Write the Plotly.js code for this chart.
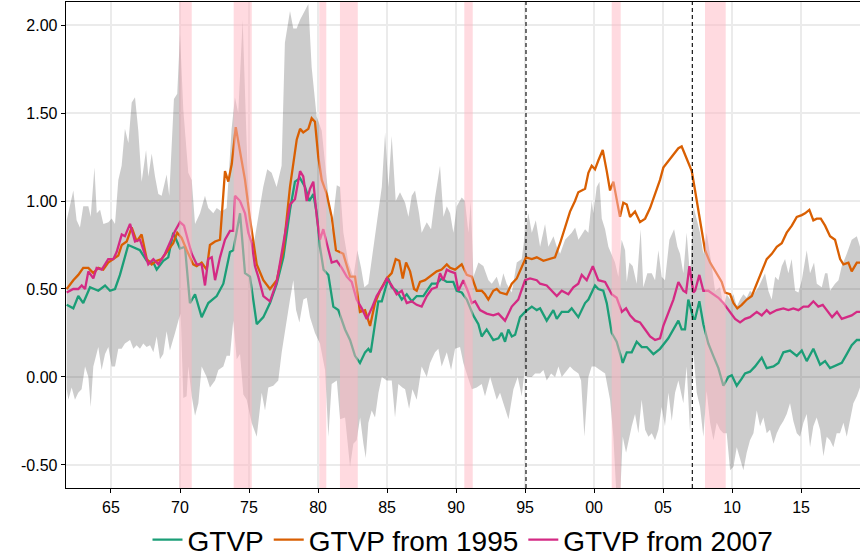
<!DOCTYPE html>
<html>
<head>
<meta charset="utf-8">
<script src="https://cdn.plot.ly/plotly-3.0.1.min.js"></script>
<style>html,body{margin:0;padding:0;background:#fff;}#chart{width:860px;height:558px;}</style>
</head>
<body>
<div id="chart"></div>
<script>
// ---- GTVP ----
var gtvpYear = [1961.79,1962.27,1962.63,1962.99,1963.48,1964.08,1964.57,1964.93,1965.29,1965.65,
1966.25,1966.74,1967.10,1967.59,1968.07,1968.31,1968.79,1969.15,1969.51,1970.00,
1970.36,1970.72,1971.09,1971.57,1972.05,1972.66,1973.14,1973.62,1973.86,1974.35,
1974.71,1975.07,1975.56,1976.04,1976.52,1977.01,1977.49,1977.97,1978.33,1978.70,
1979.06,1979.37,1979.66,1979.91,1980.14,1980.40,1980.75,1981.11,1981.47,1981.96,
1982.32,1982.68,1983.04,1983.41,1983.65,1983.82,1984.13,1984.37,1984.62,1985.09,
1985.34,1985.70,1986.07,1986.43,1986.79,1987.15,1987.63,1988.24,1988.60,1988.96,
1989.33,1989.80,1990.05,1990.41,1990.78,1991.25,1991.62,1991.86,1992.22,1992.70,
1993.07,1993.31,1993.55,1993.79,1994.04,1994.28,1994.64,1995.00,1995.49,1995.85,
1996.09,1996.57,1997.05,1997.30,1997.66,1998.14,1998.38,1998.86,1999.35,1999.59,
2000.07,2000.31,2000.67,2000.92,2001.28,2001.64,2002.08,2002.37,2002.73,2003.09,
2003.46,2003.82,2004.30,2004.78,2005.38,2005.75,2006.11,2006.35,2006.59,2006.83,
2007.20,2007.32,2007.63,2007.92,2008.28,2008.64,2009.01,2009.37,2009.73,2009.98,
2010.34,2010.70,2010.94,2011.30,2011.67,2012.15,2012.51,2013.00,2013.36,2013.72,
2014.20,2014.69,2015.05,2015.41,2015.89,2016.38,2016.74,2017.10,2017.59,2017.95,
2018.31,2018.67,2019.04,2019.27];
var gtvpValue = [0.41,0.39,0.46,0.42,0.51,0.49,0.52,0.49,0.50,0.58,
0.75,0.73,0.72,0.66,0.65,0.61,0.66,0.68,0.82,0.73,
0.74,0.42,0.47,0.34,0.42,0.46,0.53,0.71,0.72,0.93,
0.59,0.57,0.30,0.34,0.42,0.53,0.68,0.95,1.11,1.13,
1.08,1.00,1.04,0.93,0.74,0.61,0.58,0.40,0.38,0.27,
0.21,0.12,0.08,0.14,0.16,0.14,0.29,0.43,0.43,0.56,
0.51,0.49,0.44,0.47,0.43,0.46,0.46,0.53,0.53,0.56,
0.54,0.54,0.49,0.48,0.44,0.35,0.30,0.23,0.27,0.21,
0.22,0.25,0.20,0.27,0.23,0.24,0.34,0.37,0.40,0.38,
0.39,0.32,0.38,0.33,0.37,0.37,0.39,0.34,0.42,0.44,
0.52,0.50,0.49,0.42,0.25,0.20,0.08,0.14,0.14,0.20,
0.17,0.17,0.13,0.16,0.22,0.27,0.32,0.27,0.27,0.44,
0.33,0.33,0.43,0.30,0.19,0.12,0.05,-0.05,0.00,0.01,
-0.05,-0.01,0.02,0.03,0.06,0.11,0.05,0.06,0.08,0.14,
0.15,0.12,0.15,0.09,0.16,0.07,0.09,0.05,0.07,0.08,
0.13,0.18,0.21,0.21];

// ---- GTVP from 1995 ----
var from1995Year = [1961.79,1962.27,1962.63,1962.99,1963.36,1963.72,1964.08,1964.44,1964.80,1965.17,
1965.53,1965.78,1966.14,1966.50,1966.86,1967.22,1967.59,1967.95,1968.31,1968.67,
1969.15,1969.51,1969.80,1970.12,1970.49,1970.96,1971.21,1971.57,1971.93,1972.17,
1972.54,1972.90,1973.14,1973.26,1973.50,1973.75,1974.04,1974.35,1974.71,1975.07,
1975.56,1976.04,1976.52,1977.01,1977.49,1977.97,1978.46,1978.70,1978.93,1979.30,
1979.54,1979.78,1980.02,1980.27,1980.63,1980.99,1981.30,1981.83,1982.32,1982.68,
1983.04,1983.41,1983.77,1984.13,1984.49,1984.98,1985.34,1985.63,1985.89,1986.14,
1986.38,1986.67,1986.96,1987.15,1987.39,1987.75,1988.24,1988.60,1988.96,1989.33,
1989.57,1989.93,1990.41,1990.78,1991.14,1991.50,1991.86,1992.10,1992.34,1992.70,
1992.95,1993.19,1993.67,1994.04,1994.40,1994.76,1995.07,1995.49,1995.85,1996.33,
1996.81,1997.17,1997.54,1997.90,1998.26,1998.62,1998.86,1999.35,1999.59,1999.83,
2000.07,2000.31,2000.63,2000.92,2001.16,2001.40,2001.64,2001.88,2002.12,2002.37,
2002.61,2002.97,2003.33,2003.70,2004.06,2004.42,2004.78,2005.02,2005.51,2005.87,
2006.11,2006.35,2006.72,2007.08,2007.32,2007.56,2007.80,2008.04,2008.41,2008.89,
2009.25,2009.49,2009.86,2010.10,2010.38,2010.70,2011.07,2011.43,2011.79,2012.15,
2012.51,2012.88,2013.24,2013.60,2013.96,2014.33,2014.69,2015.05,2015.29,2015.60,
2015.89,2016.14,2016.43,2016.74,2017.10,2017.46,2017.83,2018.07,2018.43,2018.67,
2019.04,2019.27];
var from1995Value = [0.50,0.55,0.58,0.62,0.62,0.59,0.62,0.61,0.65,0.67,
0.69,0.75,0.77,0.85,0.77,0.81,0.67,0.64,0.66,0.67,
0.72,0.76,0.82,0.79,0.72,0.64,0.63,0.65,0.61,0.75,
0.77,0.78,1.04,1.17,1.11,1.21,1.42,1.29,1.12,0.90,
0.64,0.55,0.50,0.55,0.72,1.08,1.35,1.41,1.39,1.41,
1.47,1.45,1.25,1.12,1.04,0.91,0.72,0.70,0.57,0.57,
0.37,0.38,0.29,0.42,0.49,0.56,0.59,0.67,0.66,0.56,
0.65,0.60,0.50,0.49,0.54,0.55,0.58,0.60,0.61,0.64,
0.62,0.61,0.64,0.58,0.57,0.49,0.49,0.47,0.44,0.49,
0.50,0.48,0.47,0.53,0.56,0.62,0.68,0.67,0.68,0.66,
0.67,0.68,0.76,0.85,0.94,1.00,1.05,1.07,1.16,1.20,
1.18,1.23,1.29,1.17,1.06,1.11,1.00,0.91,0.99,0.98,
0.91,0.94,0.88,0.90,0.96,1.04,1.12,1.19,1.24,1.27,
1.30,1.31,1.24,1.17,1.06,0.95,0.82,0.72,0.65,0.59,
0.54,0.48,0.47,0.42,0.39,0.41,0.44,0.46,0.53,0.61,
0.67,0.70,0.74,0.76,0.82,0.86,0.91,0.92,0.93,0.95,
0.89,0.90,0.90,0.86,0.80,0.78,0.67,0.64,0.65,0.60,
0.65,0.65];

// ---- GTVP from 2007 ----
var from2007Year = [1961.79,1962.27,1962.63,1962.88,1963.12,1963.36,1963.72,1963.96,1964.33,1964.80,
1965.17,1965.41,1965.78,1966.01,1966.38,1966.74,1967.10,1967.46,1967.70,1968.07,
1968.43,1968.91,1969.28,1969.64,1970.00,1970.29,1970.60,1970.85,1971.21,1971.57,
1971.81,1972.05,1972.30,1972.54,1972.90,1973.26,1973.62,1973.86,1973.99,1974.35,
1974.71,1974.95,1975.20,1975.43,1975.67,1976.04,1976.52,1977.01,1977.49,1977.97,
1978.33,1978.70,1978.93,1979.18,1979.42,1979.66,1979.91,1980.14,1980.38,1980.63,
1980.99,1981.36,1981.72,1982.08,1982.44,1982.80,1983.17,1983.53,1983.89,1984.25,
1984.73,1984.98,1985.34,1985.70,1986.07,1986.43,1986.79,1987.15,1987.51,1987.88,
1988.24,1988.60,1988.84,1989.08,1989.33,1989.57,1989.93,1990.17,1990.53,1990.89,
1991.14,1991.38,1991.74,1992.22,1992.70,1993.07,1993.55,1994.04,1994.51,1995.00,
1995.36,1995.85,1996.09,1996.57,1996.93,1997.30,1997.66,1998.14,1998.50,1998.86,
1999.11,1999.47,1999.91,2000.31,2000.80,2001.28,2001.64,2002.01,2002.32,2002.61,
2002.97,2003.33,2003.70,2004.06,2004.42,2004.78,2005.02,2005.38,2005.75,2006.11,
2006.47,2006.67,2006.91,2007.20,2007.32,2007.63,2007.92,2008.28,2008.64,2009.01,
2009.37,2009.86,2010.22,2010.58,2010.94,2011.30,2011.79,2012.15,2012.51,2012.75,
2013.24,2013.72,2014.08,2014.44,2014.81,2015.17,2015.53,2015.89,2016.25,2016.57,
2016.88,2017.25,2017.60,2017.95,2018.31,2018.67,2019.04,2019.27];
var from2007Value = [0.48,0.50,0.50,0.52,0.50,0.60,0.56,0.62,0.61,0.67,
0.67,0.71,0.81,0.80,0.87,0.77,0.78,0.69,0.64,0.67,
0.64,0.70,0.77,0.83,0.88,0.86,0.77,0.70,0.64,0.64,
0.52,0.67,0.68,0.55,0.68,0.78,0.83,0.83,1.03,1.00,
0.93,0.82,0.76,0.63,0.57,0.46,0.43,0.54,0.76,0.98,
1.01,1.17,1.14,1.00,1.07,1.11,0.91,0.78,0.84,0.76,
0.65,0.66,0.62,0.57,0.54,0.44,0.39,0.33,0.39,0.46,
0.52,0.56,0.52,0.47,0.49,0.42,0.43,0.41,0.40,0.46,
0.50,0.51,0.59,0.55,0.61,0.60,0.59,0.49,0.55,0.48,
0.42,0.43,0.38,0.36,0.35,0.36,0.32,0.40,0.44,0.55,
0.56,0.55,0.53,0.52,0.49,0.46,0.49,0.47,0.51,0.53,
0.58,0.55,0.63,0.55,0.54,0.47,0.45,0.37,0.39,0.35,
0.32,0.31,0.27,0.23,0.21,0.22,0.29,0.36,0.44,0.54,
0.49,0.48,0.63,0.48,0.49,0.58,0.49,0.49,0.47,0.45,
0.42,0.37,0.33,0.31,0.33,0.34,0.37,0.35,0.38,0.36,
0.38,0.39,0.38,0.39,0.38,0.40,0.40,0.43,0.40,0.41,
0.38,0.34,0.37,0.33,0.34,0.35,0.37,0.37];

// ---- Band (upper edge) ----
var bandUpperYear = [1961.79,1962.27,1962.51,1962.75,1962.99,1963.36,1963.53,1963.80,1963.97,1964.21,
1964.45,1964.81,1965.05,1965.29,1965.53,1965.77,1966.01,1966.26,1966.50,1966.74,
1966.98,1967.22,1967.54,1967.71,1967.95,1968.19,1968.43,1968.67,1969.03,1969.22,
1969.56,1969.80,1970.00,1970.24,1970.60,1970.85,1971.09,1971.45,1971.81,1972.05,
1972.41,1972.66,1973.02,1973.38,1973.74,1973.98,1974.22,1974.54,1974.83,1975.07,
1975.31,1975.67,1976.03,1976.32,1976.64,1977.00,1977.36,1977.60,1977.97,1978.21,
1978.45,1978.70,1978.94,1979.30,1979.54,1979.90,1980.27,1980.51,1980.75,1981.00,
1981.36,1981.60,1981.84,1982.20,1982.56,1982.85,1983.12,1983.36,1983.65,1984.01,
1984.38,1984.62,1984.86,1985.10,1985.34,1985.63,1985.94,1986.31,1986.55,1986.79,
1987.03,1987.32,1987.51,1987.88,1988.19,1988.48,1988.84,1989.09,1989.33,1989.57,
1989.81,1990.05,1990.41,1990.65,1990.90,1991.07,1991.26,1991.62,1991.98,1992.35,
1992.59,1992.95,1993.19,1993.43,1993.67,1994.04,1994.40,1994.76,1995.00,1995.24,
1995.49,1995.78,1996.09,1996.45,1996.69,1997.06,1997.30,1997.54,1997.90,1998.38,
1998.63,1998.87,1999.35,1999.59,1999.83,1999.95,2000.19,2000.39,2000.56,2000.80,
2001.04,2001.28,2001.52,2001.76,2002.00,2002.25,2002.37,2002.56,2002.80,2003.09,
2003.38,2003.57,2003.86,2004.18,2004.42,2004.66,2004.90,2005.14,2005.46,2005.80,
2006.04,2006.23,2006.47,2006.71,2006.96,2007.20,2007.44,2007.68,2007.92,2008.16,
2008.53,2008.77,2009.13,2009.37,2009.61,2009.86,2010.10,2010.34,2010.58,2010.82,
2011.06,2011.30,2011.55,2011.91,2012.15,2012.39,2012.63,2012.87,2013.12,2013.36,
2013.60,2013.84,2014.08,2014.32,2014.57,2014.81,2015.05,2015.41,2015.65,2015.94,
2016.14,2016.50,2016.74,2016.91,2017.10,2017.46,2017.71,2017.95,2018.31,2018.67,
2019.04,2019.27];
var bandUpperValue = [0.89,1.06,0.89,0.85,0.97,0.97,0.91,1.19,0.93,0.95,
0.87,0.88,0.90,0.87,1.12,1.20,1.41,1.33,1.56,1.59,
1.40,1.11,1.29,1.14,1.27,1.14,1.04,1.03,1.15,1.03,
1.58,1.61,1.95,1.52,1.16,1.12,0.87,0.93,1.03,0.96,
0.93,0.96,0.94,0.96,1.41,1.59,1.50,2.03,1.33,0.82,
0.74,0.91,1.08,1.18,1.16,1.08,1.20,1.90,2.08,1.98,
1.98,2.03,2.07,2.12,1.76,1.48,1.40,1.21,1.02,0.84,
1.09,1.08,0.82,0.65,0.57,0.72,0.62,0.51,0.53,0.74,
0.93,1.08,1.39,1.08,1.37,1.00,1.05,0.99,0.91,1.03,
1.06,0.93,0.82,0.88,0.84,1.02,1.20,0.91,0.97,0.93,
0.82,0.97,1.02,1.00,0.82,1.00,0.57,0.65,0.63,0.55,
0.53,0.57,0.51,0.59,0.53,0.48,0.65,0.67,0.82,0.93,
0.82,0.89,0.74,0.87,0.74,0.80,0.74,0.70,0.78,0.82,
0.85,0.78,0.84,0.82,1.00,0.93,1.08,1.11,0.90,0.84,
0.74,0.70,0.65,0.57,0.78,0.72,0.54,0.65,0.63,0.53,
0.84,0.51,0.59,0.59,0.55,0.72,0.57,0.55,0.78,0.84,
0.74,0.70,0.59,0.82,0.57,0.97,0.89,0.82,0.70,0.82,
0.63,0.49,0.51,0.40,0.47,0.44,0.47,0.40,0.44,0.47,
0.45,0.49,0.47,0.51,0.55,0.59,0.49,0.44,0.57,0.55,
0.63,0.67,0.59,0.67,0.49,0.48,0.55,0.72,0.59,0.65,
0.53,0.51,0.59,0.59,0.49,0.53,0.55,0.63,0.70,0.78,
0.80,0.74];

// ---- Band (lower edge) ----
var bandLowerYear = [1961.79,1961.91,1962.15,1962.39,1962.63,1962.87,1963.12,1963.36,1963.53,1963.72,
1964.08,1964.32,1964.57,1964.81,1965.05,1965.29,1965.53,1965.77,1966.01,1966.38,
1966.62,1966.86,1967.10,1967.34,1967.58,1967.83,1968.07,1968.31,1968.55,1968.79,
1969.03,1969.27,1969.64,1969.88,1970.05,1970.24,1970.48,1970.60,1970.85,1971.09,
1971.33,1971.57,1971.93,1972.17,1972.54,1972.78,1973.14,1973.38,1973.62,1973.86,
1974.11,1974.35,1974.59,1974.83,1975.19,1975.56,1975.92,1976.16,1976.40,1976.76,
1977.12,1977.37,1977.61,1977.97,1978.21,1978.41,1978.65,1978.94,1979.18,1979.42,
1979.78,1980.14,1980.51,1980.75,1980.99,1981.36,1981.60,1981.96,1982.32,1982.56,
1982.80,1983.05,1983.29,1983.46,1983.65,1983.89,1984.13,1984.38,1984.62,1984.98,
1985.34,1985.58,1985.82,1986.11,1986.31,1986.60,1986.84,1987.15,1987.51,1987.88,
1988.12,1988.48,1988.72,1988.96,1989.33,1989.64,1989.93,1990.29,1990.53,1990.85,
1991.14,1991.50,1991.86,1992.10,1992.47,1992.71,1992.95,1993.19,1993.43,1993.80,
1994.16,1994.47,1994.76,1995.00,1995.12,1995.49,1995.73,1996.09,1996.33,1996.57,
1996.89,1997.18,1997.42,1997.66,1997.90,1998.26,1998.51,1998.87,1999.06,1999.30,
1999.59,1999.83,2000.07,2000.43,2000.80,2001.16,2001.40,2001.64,2001.88,2002.08,
2002.32,2002.49,2002.73,2002.97,2003.21,2003.45,2003.70,2003.94,2004.18,2004.42,
2004.66,2004.90,2005.14,2005.39,2005.63,2005.87,2006.11,2006.47,2006.71,2006.96,
2007.20,2007.44,2007.68,2007.92,2008.16,2008.41,2008.65,2008.89,2009.13,2009.37,
2009.61,2009.86,2010.10,2010.34,2010.58,2010.82,2011.06,2011.30,2011.55,2011.79,
2012.03,2012.27,2012.51,2012.75,2013.00,2013.24,2013.48,2013.72,2013.96,2014.20,
2014.44,2014.69,2014.93,2015.17,2015.41,2015.65,2015.89,2016.13,2016.38,2016.62,
2016.86,2017.10,2017.34,2017.58,2017.82,2018.07,2018.31,2018.55,2018.79,2019.04,
2019.27];
var bandLowerValue = [-0.07,-0.13,-0.06,-0.13,-0.09,-0.07,0.06,0.00,-0.17,0.06,
0.17,0.04,0.13,0.17,0.06,0.06,0.16,0.16,0.19,0.21,
0.16,0.18,0.16,0.19,0.17,0.18,0.14,0.23,0.10,0.13,
0.26,0.15,0.25,0.32,0.36,-0.12,-0.11,0.06,-0.11,-0.22,
-0.15,0.06,0.00,-0.06,-0.02,0.04,0.06,0.12,0.12,0.32,
0.10,0.13,-0.10,-0.13,-0.26,-0.34,-0.09,-0.19,-0.06,-0.05,
-0.02,0.14,0.27,0.44,0.55,0.38,0.31,0.44,0.45,0.34,
0.25,0.19,0.04,-0.34,-0.04,-0.02,-0.24,-0.23,-0.51,-0.38,
-0.36,-0.23,-0.38,-0.46,-0.26,-0.19,-0.23,-0.09,0.00,-0.02,
-0.02,-0.23,-0.04,-0.06,-0.07,-0.18,-0.07,-0.13,0.06,0.00,
0.08,0.14,0.16,0.06,0.14,0.04,0.16,0.17,0.08,0.00,
-0.07,-0.06,-0.04,-0.11,0.00,-0.06,-0.13,-0.09,-0.15,-0.24,
-0.07,0.00,-0.11,0.06,0.00,0.00,0.02,0.02,0.04,-0.02,
0.02,0.00,0.06,0.00,0.02,0.06,0.04,0.02,-0.02,-0.34,
0.00,0.06,0.06,0.04,0.02,-0.13,-0.34,-0.70,-0.70,-0.34,
-0.43,-0.38,-0.28,-0.21,-0.32,-0.13,-0.30,-0.34,-0.32,-0.36,
-0.30,-0.17,-0.28,-0.09,-0.25,-0.09,-0.02,-0.15,0.06,-0.32,
0.14,-0.09,-0.17,-0.34,-0.08,-0.26,-0.36,-0.26,-0.30,-0.32,
-0.32,-0.53,-0.51,-0.40,-0.47,-0.53,-0.43,-0.36,-0.32,-0.19,
-0.28,-0.23,-0.32,-0.30,-0.38,-0.32,-0.28,-0.25,-0.21,-0.15,
-0.25,-0.32,-0.34,-0.26,-0.21,-0.40,-0.28,-0.23,-0.30,-0.45,
-0.34,-0.36,-0.40,-0.32,-0.32,-0.26,-0.34,-0.25,-0.15,-0.11,
-0.06];

// ---- Recessions, break markers, ticks ----
var recessionStart = [1969.95,1973.89,1980.09,1981.59,1990.60,2001.28,2008.04];
var recessionEnd   = [1970.85,1975.20,1980.60,1982.88,1991.21,2001.93,2009.54];
var breakYears = [1995.07,2007.12];
var xTickYears = [1965,1970,1975,1980,1985,1990,1995,2000,2005,2010,2015];
var xTickLabels = ['65','70','75','80','85','90','95','00','05','10','15'];
var yTickValues = [-0.5,0,0.5,1,1.5,2];
var yTickLabels = ['-0.50','0.00','0.50','1.00','1.50','2.00'];

var bandX = bandUpperYear.concat(bandLowerYear.slice().reverse());
var bandY = bandUpperValue.concat(bandLowerValue.slice().reverse());

var traces = [
  {x: bandX, y: bandY, type: 'scatter', mode: 'lines', fill: 'toself',
   fillcolor: 'rgba(0,0,0,0.2)', line: {width: 0, color: 'rgba(0,0,0,0)'},
   showlegend: false, hoverinfo: 'skip'},
  {x: gtvpYear, y: gtvpValue, type: 'scatter', mode: 'lines', name: 'GTVP',
   line: {color: '#1B9E77', width: 2.3}},
  {x: from1995Year, y: from1995Value, type: 'scatter', mode: 'lines', name: 'GTVP from 1995',
   line: {color: '#D95F02', width: 2.3}},
  {x: from2007Year, y: from2007Value, type: 'scatter', mode: 'lines', name: 'GTVP from 2007',
   line: {color: '#D42A84', width: 2.3}}
];

var shapes = [];
for (var i = 0; i < recessionStart.length; i++) {
  shapes.push({type: 'rect', xref: 'x', yref: 'paper', x0: recessionStart[i], x1: recessionEnd[i],
    y0: 0, y1: 1, fillcolor: 'rgba(255,182,193,0.5)', line: {width: 0}, layer: 'above'});
}
for (var j = 0; j < breakYears.length; j++) {
  shapes.push({type: 'line', xref: 'x', yref: 'paper', x0: breakYears[j], x1: breakYears[j],
    y0: 0, y1: 1, line: {color: '#000', width: 1.1, dash: '4px,3px'}, layer: 'above'});
}

var fontFam = 'Liberation Sans, Arial, sans-serif';
var layout = {
  width: 860, height: 558,
  margin: {l: 66, r: 0, t: 2, b: 70, autoexpand: false},
  paper_bgcolor: '#fff', plot_bgcolor: '#fff',
  showlegend: true,
  font: {family: fontFam, color: '#000'},
  xaxis: {
    range: [1961.74, 2019.27], tickvals: xTickYears, ticktext: xTickLabels,
    showgrid: true, gridcolor: '#ebebeb', gridwidth: 1.5, zeroline: false,
    showline: true, linecolor: '#000', linewidth: 1.3, mirror: true,
    ticks: 'outside', ticklen: 4, tickwidth: 1, tickcolor: '#000',
    tickfont: {family: fontFam, size: 16, color: '#000'}
  },
  yaxis: {
    range: [-0.631, 2.131], tickvals: yTickValues, ticktext: yTickLabels,
    showgrid: true, gridcolor: '#ebebeb', gridwidth: 1.5, zeroline: false,
    showline: true, linecolor: '#000', linewidth: 1.3,
    ticks: 'outside', ticklen: 4, tickwidth: 1, tickcolor: '#000',
    tickfont: {family: fontFam, size: 16, color: '#000'}
  },
  legend: {orientation: 'h', x: 0.5, xanchor: 'center', y: -0.107, yanchor: 'middle',
    font: {family: fontFam, size: 28, color: '#000'}, bgcolor: 'rgba(0,0,0,0)'},
  shapes: shapes
};

Plotly.newPlot('chart', traces, layout, {displayModeBar: false, staticPlot: true});
</script>
</body>
</html>
